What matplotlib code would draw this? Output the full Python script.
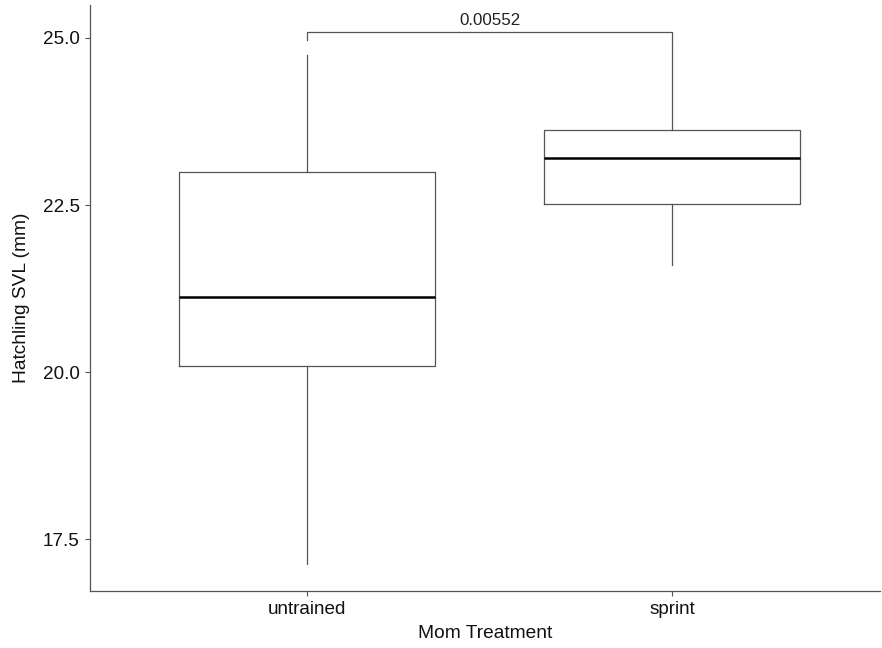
import matplotlib
matplotlib.use("Agg")
import matplotlib.pyplot as plt

plt.rcParams['font.family'] = ['Liberation Sans', 'DejaVu Sans']

categories = ["untrained", "sprint"]
whisk_low = [17.13, 21.61]
q1 = [20.09, 22.51]
median = [21.12, 23.21]
q3 = [22.99, 23.62]
whisk_high = [24.74, 24.95]
p_label = "0.00552"
bracket_y = 25.08
tip = 0.12

fig = plt.figure(figsize=(8.82, 6.48), dpi=100)
ax = fig.add_axes([90/882, 57/648, 790/882, 586/648])

stats = []
for i, c in enumerate(categories):
    stats.append(dict(label=c, whislo=whisk_low[i], q1=q1[i], med=median[i],
                      q3=q3[i], whishi=whisk_high[i], fliers=[]))
pos = [1, 2]
ax.bxp(stats, positions=pos, widths=0.7, showcaps=False, showfliers=False,
       boxprops=dict(color='#555555', linewidth=0.9),
       whiskerprops=dict(color='#555555', linewidth=0.9),
       medianprops=dict(color='black', linewidth=1.8))

# significance bracket
ax.plot([pos[0], pos[0], pos[1], pos[1]],
        [bracket_y - tip, bracket_y, bracket_y, bracket_y - tip],
        color='#555555', linewidth=0.9, clip_on=False)
ax.text((pos[0] + pos[1]) / 2, bracket_y + 0.06, p_label, ha='center', va='bottom',
        fontsize=12.2, color='#222222')

ax.set_xlim(0.405, 2.57)
ax.set_ylim(16.73, 25.49)
ax.set_yticks([17.5, 20.0, 22.5, 25.0])
ax.set_yticklabels(["17.5", "20.0", "22.5", "25.0"])
ax.set_xticks(pos)
ax.set_xticklabels(categories)
for s in ['top', 'right']:
    ax.spines[s].set_visible(False)
for s in ['left', 'bottom']:
    ax.spines[s].set_color('#555555')
    ax.spines[s].set_linewidth(0.9)
ax.tick_params(axis='both', length=3.5, width=0.8, color='#555555',
               labelsize=13.6, labelcolor='#111111', pad=4)
ax.set_xlabel("Mom Treatment", fontsize=13.8, color='#111111', labelpad=5)
ax.set_ylabel("Hatchling SVL (mm)", fontsize=13.8, color='#111111', labelpad=9)

fig.savefig("out.png", dpi=100)
